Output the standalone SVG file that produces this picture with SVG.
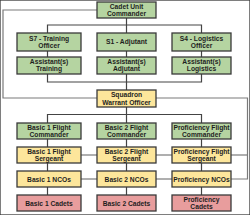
<svg xmlns="http://www.w3.org/2000/svg" width="250" height="215" viewBox="0 0 250 215">
<style>
rect{stroke:#3a3a3a;stroke-width:1.3}
.g{fill:#b5d4a1}
.y{fill:#fde69b}
.r{fill:#e89d9d}
text{font-family:"Liberation Sans",Arial,sans-serif;font-weight:bold;font-size:6.7px;fill:#1e1e1e;text-anchor:middle}
.c line,.c polyline{stroke:#444;stroke-width:1.2;fill:none}
.c .x{stroke:#7a7a7a}
</style>
<rect width="250" height="215" fill="#fff" stroke="none"/>
<g class="c" id="connectors">
<polyline class="x" points="97,10 3,10 3,98 97,98"/>
<polyline class="x" points="156,98 247.5,98 247.5,179 231,179"/>
<line class="x" x1="231" y1="155" x2="247.5" y2="155"/>
<line class="x" x1="81" y1="155" x2="97" y2="155"/>
<line class="x" x1="156" y1="155" x2="172" y2="155"/>
<line class="x" x1="81" y1="179" x2="97" y2="179"/>
<line class="x" x1="156" y1="179" x2="172" y2="179"/>
<line x1="126.5" y1="18" x2="126.5" y2="33"/>
<polyline points="47.5,33 47.5,25 201.5,25 201.5,33"/>
<line x1="47.5" y1="51" x2="47.5" y2="57"/>
<line x1="126.5" y1="51" x2="126.5" y2="57"/>
<line x1="201.5" y1="51" x2="201.5" y2="57"/>
<polyline points="47.5,74 47.5,82 201.5,82 201.5,74"/>
<line x1="126.5" y1="74" x2="126.5" y2="90"/>
<line x1="126.5" y1="107" x2="126.5" y2="114.5"/>
<polyline points="47.5,123 47.5,114.5 201.5,114.5 201.5,123"/>
<line x1="126.5" y1="114.5" x2="126.5" y2="123"/>
<line x1="47.5" y1="139" x2="47.5" y2="195"/>
<line x1="126.5" y1="139" x2="126.5" y2="195"/>
<line x1="201.5" y1="139" x2="201.5" y2="195"/>
</g>
<g id="cadet-unit-commander"><rect class="g" x="97" y="2" width="59" height="16"/><text x="126.5" y="9">Cadet Unit</text><text x="126.5" y="16">Commander</text></g>
<g id="s7"><rect class="g" x="17" y="33" width="64" height="18"/><text x="49" y="40.5">S7 - Training</text><text x="49" y="47.5">Officer</text></g>
<g id="s1"><rect class="g" x="97" y="33" width="59" height="18"/><text x="126.5" y="44.3">S1 - Adjutant</text></g>
<g id="s4"><rect class="g" x="172" y="33" width="59" height="18"/><text x="201.5" y="40.5">S4 - Logistics</text><text x="201.5" y="47.5">Officer</text></g>
<g id="asst-training"><rect class="g" x="17" y="57" width="64" height="17"/><text x="49" y="64">Assistant(s)</text><text x="49" y="71">Training</text></g>
<g id="asst-adjutant"><rect class="g" x="97" y="57" width="59" height="17"/><text x="126.5" y="64">Assistant(s)</text><text x="126.5" y="71">Adjutant</text></g>
<g id="asst-logistics"><rect class="g" x="172" y="57" width="59" height="17"/><text x="201.5" y="64">Assistant(s)</text><text x="201.5" y="71">Logistics</text></g>
<g id="squadron-wo"><rect class="y" x="97" y="90" width="59" height="17"/><text x="126.5" y="97">Squadron</text><text x="126.5" y="104.5">Warrant Officer</text></g>
<g id="b1-cmd"><rect class="g" x="17" y="123" width="64" height="16"/><text x="49" y="130">Basic 1 Flight</text><text x="49" y="137">Commander</text></g>
<g id="b2-cmd"><rect class="g" x="97" y="123" width="59" height="16"/><text x="126.5" y="130">Basic 2 Flight</text><text x="126.5" y="137">Commander</text></g>
<g id="p-cmd"><rect class="g" x="172" y="123" width="59" height="16"/><text x="201.5" y="130" font-size="6.3">Proficiency Flight</text><text x="201.5" y="137">Commander</text></g>
<g id="b1-sgt"><rect class="y" x="17" y="147" width="64" height="16"/><text x="49" y="154">Basic 1 Flight</text><text x="49" y="161">Sergeant</text></g>
<g id="b2-sgt"><rect class="y" x="97" y="147" width="59" height="16"/><text x="126.5" y="154">Basic 2 Flight</text><text x="126.5" y="161">Sergeant</text></g>
<g id="p-sgt"><rect class="y" x="172" y="147" width="59" height="16"/><text x="201.5" y="154" font-size="6.3">Proficiency Flight</text><text x="201.5" y="161">Sergeant</text></g>
<g id="b1-nco"><rect class="y" x="17" y="171" width="64" height="16"/><text x="49" y="181.5">Basic 1 NCOs</text></g>
<g id="b2-nco"><rect class="y" x="97" y="171" width="59" height="16"/><text x="126.5" y="181.5">Basic 2 NCOs</text></g>
<g id="p-nco"><rect class="y" x="172" y="171" width="59" height="16"/><text x="201.5" y="181.5" font-size="6.3">Proficiency NCOs</text></g>
<g id="b1-cadets"><rect class="r" x="17" y="195" width="64" height="16"/><text x="49" y="205.5">Basic 1 Cadets</text></g>
<g id="b2-cadets"><rect class="r" x="97" y="195" width="59" height="16"/><text x="126.5" y="205.5">Basic 2 Cadets</text></g>
<g id="p-cadets"><rect class="r" x="172" y="195" width="59" height="16"/><text x="201.5" y="202">Proficiency</text><text x="201.5" y="209">Cadets</text></g>
</svg>
